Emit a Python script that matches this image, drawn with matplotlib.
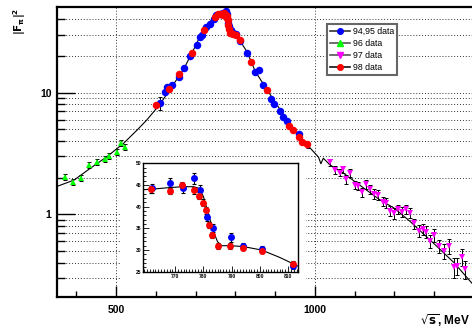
import numpy as np
import matplotlib
matplotlib.use('Agg')
import matplotlib.pyplot as plt
from matplotlib.lines import Line2D
from matplotlib.ticker import FixedLocator, NullFormatter, MultipleLocator

plt.rcParams['font.family'] = ['Liberation Sans', 'DejaVu Sans']

# ---- data ----
# 94,95 data (blue)
e_blue = [610.7, 621.6, 629, 640, 659, 671, 684.5, 703, 709.6, 715.6, 726.5, 734.8, 745, 752,
          761.8, 768, 772.7, 776.7, 778.9, 781.2, 783.3, 789.6, 794.1, 800.6, 811.6,
          828.9, 849.8, 859.8, 869.1, 889, 895.9, 911, 919.5, 929.5, 958.7]
f_blue = [8.18, 10.2, 11.1, 11.6, 13.5, 15.9, 20.0, 24.7, 28.6, 29.8, 34.9, 36.7, 40.5, 43.0,
          44.2, 45.4, 44.2, 46.5, 43.9, 37.5, 35.1, 32.9, 30.9, 30.2, 26.4,
          21.1, 14.7, 15.2, 11.6, 8.83, 8.07, 7.11, 6.28, 5.85, 4.55]
err_blue = [1.05, 0.3, 0.3, 0.3, 0.35, 0.4, 0.5, 0.6, 0.7, 0.7, 0.8, 0.9, 1.0, 1.0,
            1.0, 1.1, 1.0, 1.2, 1.0, 0.9, 0.9, 1.0, 0.8, 0.8, 0.7,
            0.5, 0.4, 0.4, 0.3, 0.25, 0.2, 0.2, 0.2, 0.2, 0.15]

# 96 data (green)
e_green = [371.7, 391, 411, 432, 452, 471.6, 481.6, 501, 511, 522]
f_green = [2.04, 1.84, 1.98, 2.54, 2.69, 2.85, 3.03, 3.25, 3.84, 3.56]
err_green = [0.12, 0.11, 0.12, 0.14, 0.15, 0.15, 0.16, 0.17, 0.2, 0.19]

# 97 data (magenta)
e_mag = [981.5, 1038.5, 1051, 1062, 1069.5, 1078.8, 1088.8, 1099.6, 1108, 1118, 1129, 1139, 1149,
         1158.5, 1171, 1179, 1189.5, 1199.5, 1210, 1220, 1229.7, 1238, 1250, 1260.7,
         1270.7, 1280, 1290, 1300, 1311, 1323.6, 1338, 1348.8, 1357, 1369, 1378]
f_mag = [3.65, 2.68, 2.31, 2.2, 2.34, 1.94, 2.2, 1.74, 1.71, 1.51, 1.77, 1.61, 1.47,
         1.44, 1.27, 1.24, 1.07, 1.02, 1.1, 1.05, 1.1, 1.03, 0.84, 0.73,
         0.75, 0.72, 0.6, 0.67, 0.55, 0.5, 0.55, 0.37, 0.376, 0.448, 0.353]
err_mag = [0.15, 0.18, 0.16, 0.15, 0.16, 0.15, 0.17, 0.14, 0.14, 0.13, 0.15, 0.14, 0.13,
           0.13, 0.11, 0.11, 0.1, 0.1, 0.1, 0.1, 0.1, 0.1, 0.08, 0.08,
           0.08, 0.08, 0.07, 0.08, 0.07, 0.07, 0.08, 0.07, 0.06, 0.07, 0.06]

# 98 data (red)
e_red = [600.7, 631.6, 659, 690.5, 719.7, 749, 756,
         761.4, 768, 772.4, 776.5, 778.6, 779.8, 781, 782, 783, 785.3, 789.5, 794.1, 800.6, 811.6,
         838.9, 879, 935.6, 944.7, 958.7, 967, 979.9]
f_red = [7.92, 10.7, 14.3, 21.1, 32.4, 42.0, 44.0,
         44.0, 43.7, 44.9, 43.8, 42.5, 40.9, 39.2, 35.8, 33.5, 30.9, 30.9, 30.5, 29.8, 26.8,
         18.0, 10.5, 5.32, 4.94, 4.35, 3.95, 3.79]
err_red = [0.25, 0.3, 0.35, 0.5, 0.7, 0.8, 0.8,
           0.8, 0.8, 0.8, 0.8, 0.8, 0.8, 0.8, 0.7, 0.7, 0.7, 0.7, 0.6, 0.6, 0.6,
           0.4, 0.25, 0.12, 0.12, 0.1, 0.1, 0.1]

# fit curve (main)
e_fit = [350, 394, 435, 477, 519, 553, 577, 610, 640, 669, 690, 711, 736, 752, 762, 770, 776,
         779, 781, 783, 786, 794, 800, 807, 815, 829, 850, 896, 930, 963, 988, 1009, 1015,
         1021, 1038, 1070, 1106, 1164, 1200, 1240, 1298, 1350, 1400]
f_fit = [1.69, 1.91, 2.39, 2.98, 3.84, 4.94, 5.96, 8.0, 11.2, 15.4, 21.0, 28.9, 38.4, 42.5,
         44.0, 44.5, 44.6, 44.0, 40.5, 35.5, 31.0, 30.8, 30.0, 28.3, 25.5, 21.7, 14.9, 8.71,
         5.97, 4.2, 3.5, 2.95, 2.6, 2.89, 2.54, 2.2, 1.8, 1.31, 1.12, 0.87, 0.58, 0.40, 0.26]

# fit curve (inset)
e_fit_in = [758, 761.2, 768, 772.7, 776.5, 778.6, 780, 781.2, 782.4, 783.6, 785, 786.5,
            789.5, 794.1, 800.6, 807, 813.5]
f_fit_in = [43.9, 44.0, 44.4, 44.6, 44.6, 44.2, 42.3, 39.6, 36.9, 34.2, 31.9, 31.0,
            31.0, 30.8, 30.0, 28.3, 26.3]

legend_labels = ['94,95 data', '96 data', '97 data', '98 data']

# ---- figure ----
W, H = 472, 330
fig = plt.figure(figsize=(W / 100, H / 100), dpi=100)

def fbox(x0, y0, x1, y1):
    return [x0 / W, 1 - y1 / H, (x1 - x0) / W, (y1 - y0) / H]

ax = fig.add_axes(fbox(57, 7, 473.9, 297))
ax.set_yscale('log')
ax.set_xlim(351, 1400)
ax.set_ylim(0.209, 50.5)

grid_kw = dict(color='#333333', linestyle=(0, (1, 2)), linewidth=0.7)
ax.yaxis.set_major_locator(FixedLocator([1, 10]))
ax.yaxis.set_minor_locator(FixedLocator([0.3, 0.4, 0.5, 0.6, 0.7, 0.8, 0.9,
                                         2, 3, 4, 5, 6, 7, 8, 9, 20, 30, 40]))
ax.yaxis.set_minor_formatter(NullFormatter())
ax.set_yticklabels(['1', '10'])
ax.xaxis.set_major_locator(FixedLocator([500, 1000]))
ax.xaxis.set_minor_locator(MultipleLocator(100))
ax.grid(True, which='both', axis='y', **grid_kw)
ax.grid(True, which='major', axis='x', **grid_kw)
ax.tick_params(which='both', direction='in', top=False, right=False, labelsize=7.5,
               width=1.0)
ax.tick_params(axis='y', which='major', length=13, pad=4)
ax.tick_params(axis='y', which='minor', length=6)
ax.tick_params(axis='x', which='major', length=8, pad=6)
ax.tick_params(axis='x', which='minor', length=4)
for lab in ax.get_xticklabels() + ax.get_yticklabels():
    lab.set_fontweight('bold')
for s in ax.spines.values():
    s.set_linewidth(1.6)

ax.plot(e_fit, f_fit, color='black', lw=0.8, zorder=3)
eb = dict(fmt='none', ecolor='black', elinewidth=0.7, capsize=1.2, capthick=0.7, zorder=4)
ax.errorbar(e_green, f_green, yerr=err_green, **eb)
ax.errorbar(e_mag, f_mag, yerr=err_mag, **eb)
ax.errorbar(e_blue, f_blue, yerr=err_blue, **eb)
ax.errorbar(e_red, f_red, yerr=err_red, **eb)
ax.plot(e_green, f_green, '^', color='#00ff00', ms=4.8, mew=0, zorder=5)
ax.plot(e_mag, f_mag, 'v', color='#ff00ff', ms=5, mew=0, zorder=5)
ax.plot(e_blue, f_blue, 'o', color='#0000ff', ms=5.4, mew=0, zorder=5)
ax.plot(e_red, f_red, 'o', color='#ff0000', ms=5.4, mew=0, zorder=6)

# axis titles
fig.text(20 / W, 1 - 8 / H, r'$\mathbf{|F_{\pi}|^2}$', rotation=90, ha='center', va='top',
         fontsize=7.5)
fig.text(470 / W, 1 - 321 / H, r'$\mathbf{\sqrt{s}}$, MeV', ha='right', va='center',
         fontsize=8.5, fontweight='bold')

# legend
handles = [
    Line2D([], [], color='#333333', lw=1.2, marker='o', mfc='#0000ff', mec='#0000ff', ms=4),
    Line2D([], [], color='#555555', lw=1.2, marker='^', mfc='#00ff00', mec='#00ff00', ms=4),
    Line2D([], [], color='#555555', lw=1.2, marker='v', mfc='#ff00ff', mec='#ff00ff', ms=4),
    Line2D([], [], color='#111111', lw=1.2, marker='o', mfc='#ff0000', mec='#ff0000', ms=4),
]
leg = fig.legend(handles, legend_labels, loc='upper left',
                 bbox_to_anchor=(327 / W, 1 - 24 / H), borderaxespad=0,
                 fontsize=6.3, fancybox=False, framealpha=1, edgecolor='#666666',
                 handlelength=2.3, handletextpad=0.3, labelspacing=0.35,
                 borderpad=0.35)
leg.get_frame().set_linewidth(1.5)

# white pad behind inset
pad = fig.add_axes(fbox(120, 158, 306, 286))
pad.set_facecolor('white')
pad.set_xticks([])
pad.set_yticks([])
for s in pad.spines.values():
    s.set_visible(False)

# inset
axi = fig.add_axes(fbox(143.3, 163.3, 298, 271.7))
axi.set_xlim(758.7, 813.5)
axi.set_ylim(25, 50)
axi.xaxis.set_major_locator(FixedLocator([770, 780, 790, 800, 810]))
axi.xaxis.set_minor_locator(MultipleLocator(1))
axi.yaxis.set_major_locator(MultipleLocator(5))
axi.yaxis.set_minor_locator(MultipleLocator(1))
axi.tick_params(which='both', direction='in', top=False, right=False, labelsize=3.6,
                width=0.6, pad=1.5)
axi.tick_params(which='major', length=4)
axi.tick_params(which='minor', length=2)
for lab in axi.get_xticklabels() + axi.get_yticklabels():
    lab.set_fontweight('bold')
for s in axi.spines.values():
    s.set_linewidth(1.0)

axi.plot(e_fit_in, f_fit_in, color='black', lw=0.8, zorder=3)
ebi = dict(fmt='none', ecolor='black', elinewidth=0.8, capsize=1.2, capthick=0.8, zorder=4)
axi.errorbar(e_blue, f_blue, yerr=err_blue, **ebi)
axi.errorbar(e_red, f_red, yerr=err_red, **ebi)
axi.plot(e_blue, f_blue, 'o', color='#0000ff', ms=5, mew=0, zorder=5)
axi.plot(e_red, f_red, 'o', color='#ff0000', ms=5, mew=0, zorder=6)

fig.savefig('out.png', dpi=100)
